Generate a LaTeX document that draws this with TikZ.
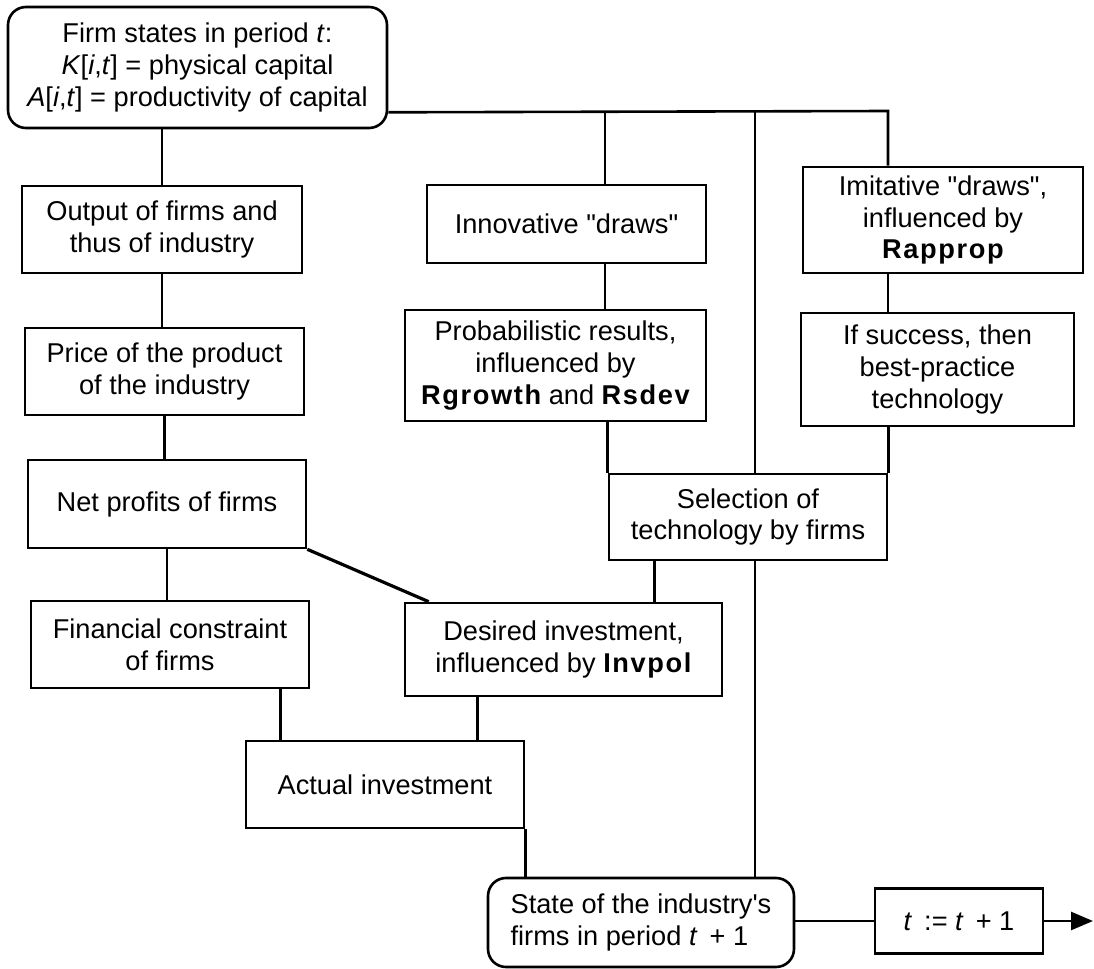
\documentclass[tikz,border=0pt]{standalone}
\usepackage{fontspec}
\setmainfont{Liberation Sans}
\usetikzlibrary{calc,arrows.meta}
% straight quotes, set as glyphs so that no TeX mapping curls them
\newcommand\sq{\XeTeXglyph\XeTeXcharglyph"27\relax}
\newcommand\dq{\XeTeXglyph\XeTeXcharglyph"22\relax}
% model parameter names: bold, slightly spaced
\newcommand\prm[1]{{\bfseries\addfontfeature{LetterSpace=6}#1}}
\begin{document}
\begin{tikzpicture}[x=0.5pt,y=-0.5pt,
  every node/.style={font=\fontsize{13.6}{15.9}\selectfont},
  box/.style={draw, line width=1.3pt, align=center, inner sep=0pt},
  rbox/.style={box, rounded corners=9pt},
  sz/.style 2 args={minimum width=#1*0.5pt, minimum height=#2*0.5pt},
  link/.style={line width=1.3pt}]
\useasboundingbox (0,0) rectangle (1094,969);

% ---- boxes ----
\node[rbox, sz={379}{121}] (top) at (197.5,67.5)
  {Firm states in period \textit{t}:\\
   \textit{K}[\textit{i},\textit{t}] = physical capital\\
   \textit{A}[\textit{i},\textit{t}] = productivity of capital};
\node[box, sz={280}{87}] (out) at (162,229.5) {Output of firms and\\ thus of industry};
\node[box, sz={279}{87}] (price) at (164.5,371.5) {Price of the product\\ of the industry};
\node[box, sz={278}{88}] (net) at (167,504) {Net profits of firms};
\node[box, sz={278}{87}] (fin) at (170,644.5) {Financial constraint\\ of firms};
\node[box, sz={317}{93}] (des) at (563.5,649.5) {Desired investment,\\ influenced by \prm{Invpol}};
\node[box, sz={278}{87}] (act) at (385,784.5) {Actual investment};
\node[box, sz={279}{78}] (innov) at (566.5,224) {Innovative \dq draws\dq};
\node[box, sz={301}{111}] (prob) at (555.5,365.5)
  {Probabilistic results,\\ influenced by\\ \prm{Rgrowth} and \prm{Rsdev}};
\node[box, sz={280}{106}] (imit) at (943,220)
  {Imitative \dq draws\dq,\\ influenced by\\ \prm{Rapprop}};
\node[box, sz={273}{113}] (succ) at (937.5,369.5) {If success, then\\ best-practice\\ technology};
\node[box, sz={278}{86}] (sel) at (748,517) {Selection of\\ technology by firms};
\node[rbox, sz={306}{89}, align=left] (state) at (641,922.5)
  {State of the industry\sq s\\ firms in period \textit{t}\, + 1};
\node[box, sz={168}{65}] (tbox) at (959,921) {\textit{t}\, := \textit{t}\, + 1};

% ---- bus leaving the firm states ----
\coordinate (j) at ($(top.south east)+(0,-17)$);
\coordinate (busA) at (605,111);
\coordinate (busB) at (755,111);
\coordinate (busR) at (888,111);
\coordinate (end) at (1093,921);

% ---- connectors ----
\draw[link] (j) -- (busR) -- (busR |- imit.north);
\draw[link] (busA) -- (busA |- innov.north);
\draw[link] (busB) -- (busB |- sel.north);
\draw[link] (top.south -| out.north) -- (out.north);
\draw[link] (out.south) -- (out.south |- price.north);
\draw[link] (price.south) -- (price.south |- net.north);
\draw[link] (net.south) -- (net.south |- fin.north);
\draw[link, line width=1.6pt] (net.south east) -- ($(des.north west)+(25,0)$);
\draw[link] ($(fin.south east)+(-30,0)$) coordinate (fa) -- (fa |- act.north);
\draw[link] ($(des.south west)+(74,0)$) coordinate (da) -- (da |- act.north);
\draw[link] (act.south east) -- (act.south east |- state.north);
\draw[link] (busA |- innov.south) -- (busA |- prob.north);
\draw[link] (sel.north west |- prob.south) -- (sel.north west);
\draw[link] (busR |- imit.south) -- (busR |- succ.north);
\draw[link] (sel.north east |- succ.south) -- (sel.north east);
\draw[link] ($(sel.south west)+(47,0)$) coordinate (sa) -- (sa |- des.north);
\draw[link] (busB |- sel.south) -- (busB |- state.north);
\draw[link] (tbox.west -| state.east) -- (tbox.west);
\draw[link, -{Triangle[length=11pt,width=9pt]}] (tbox.east) -- (end);
\end{tikzpicture}
\end{document}
